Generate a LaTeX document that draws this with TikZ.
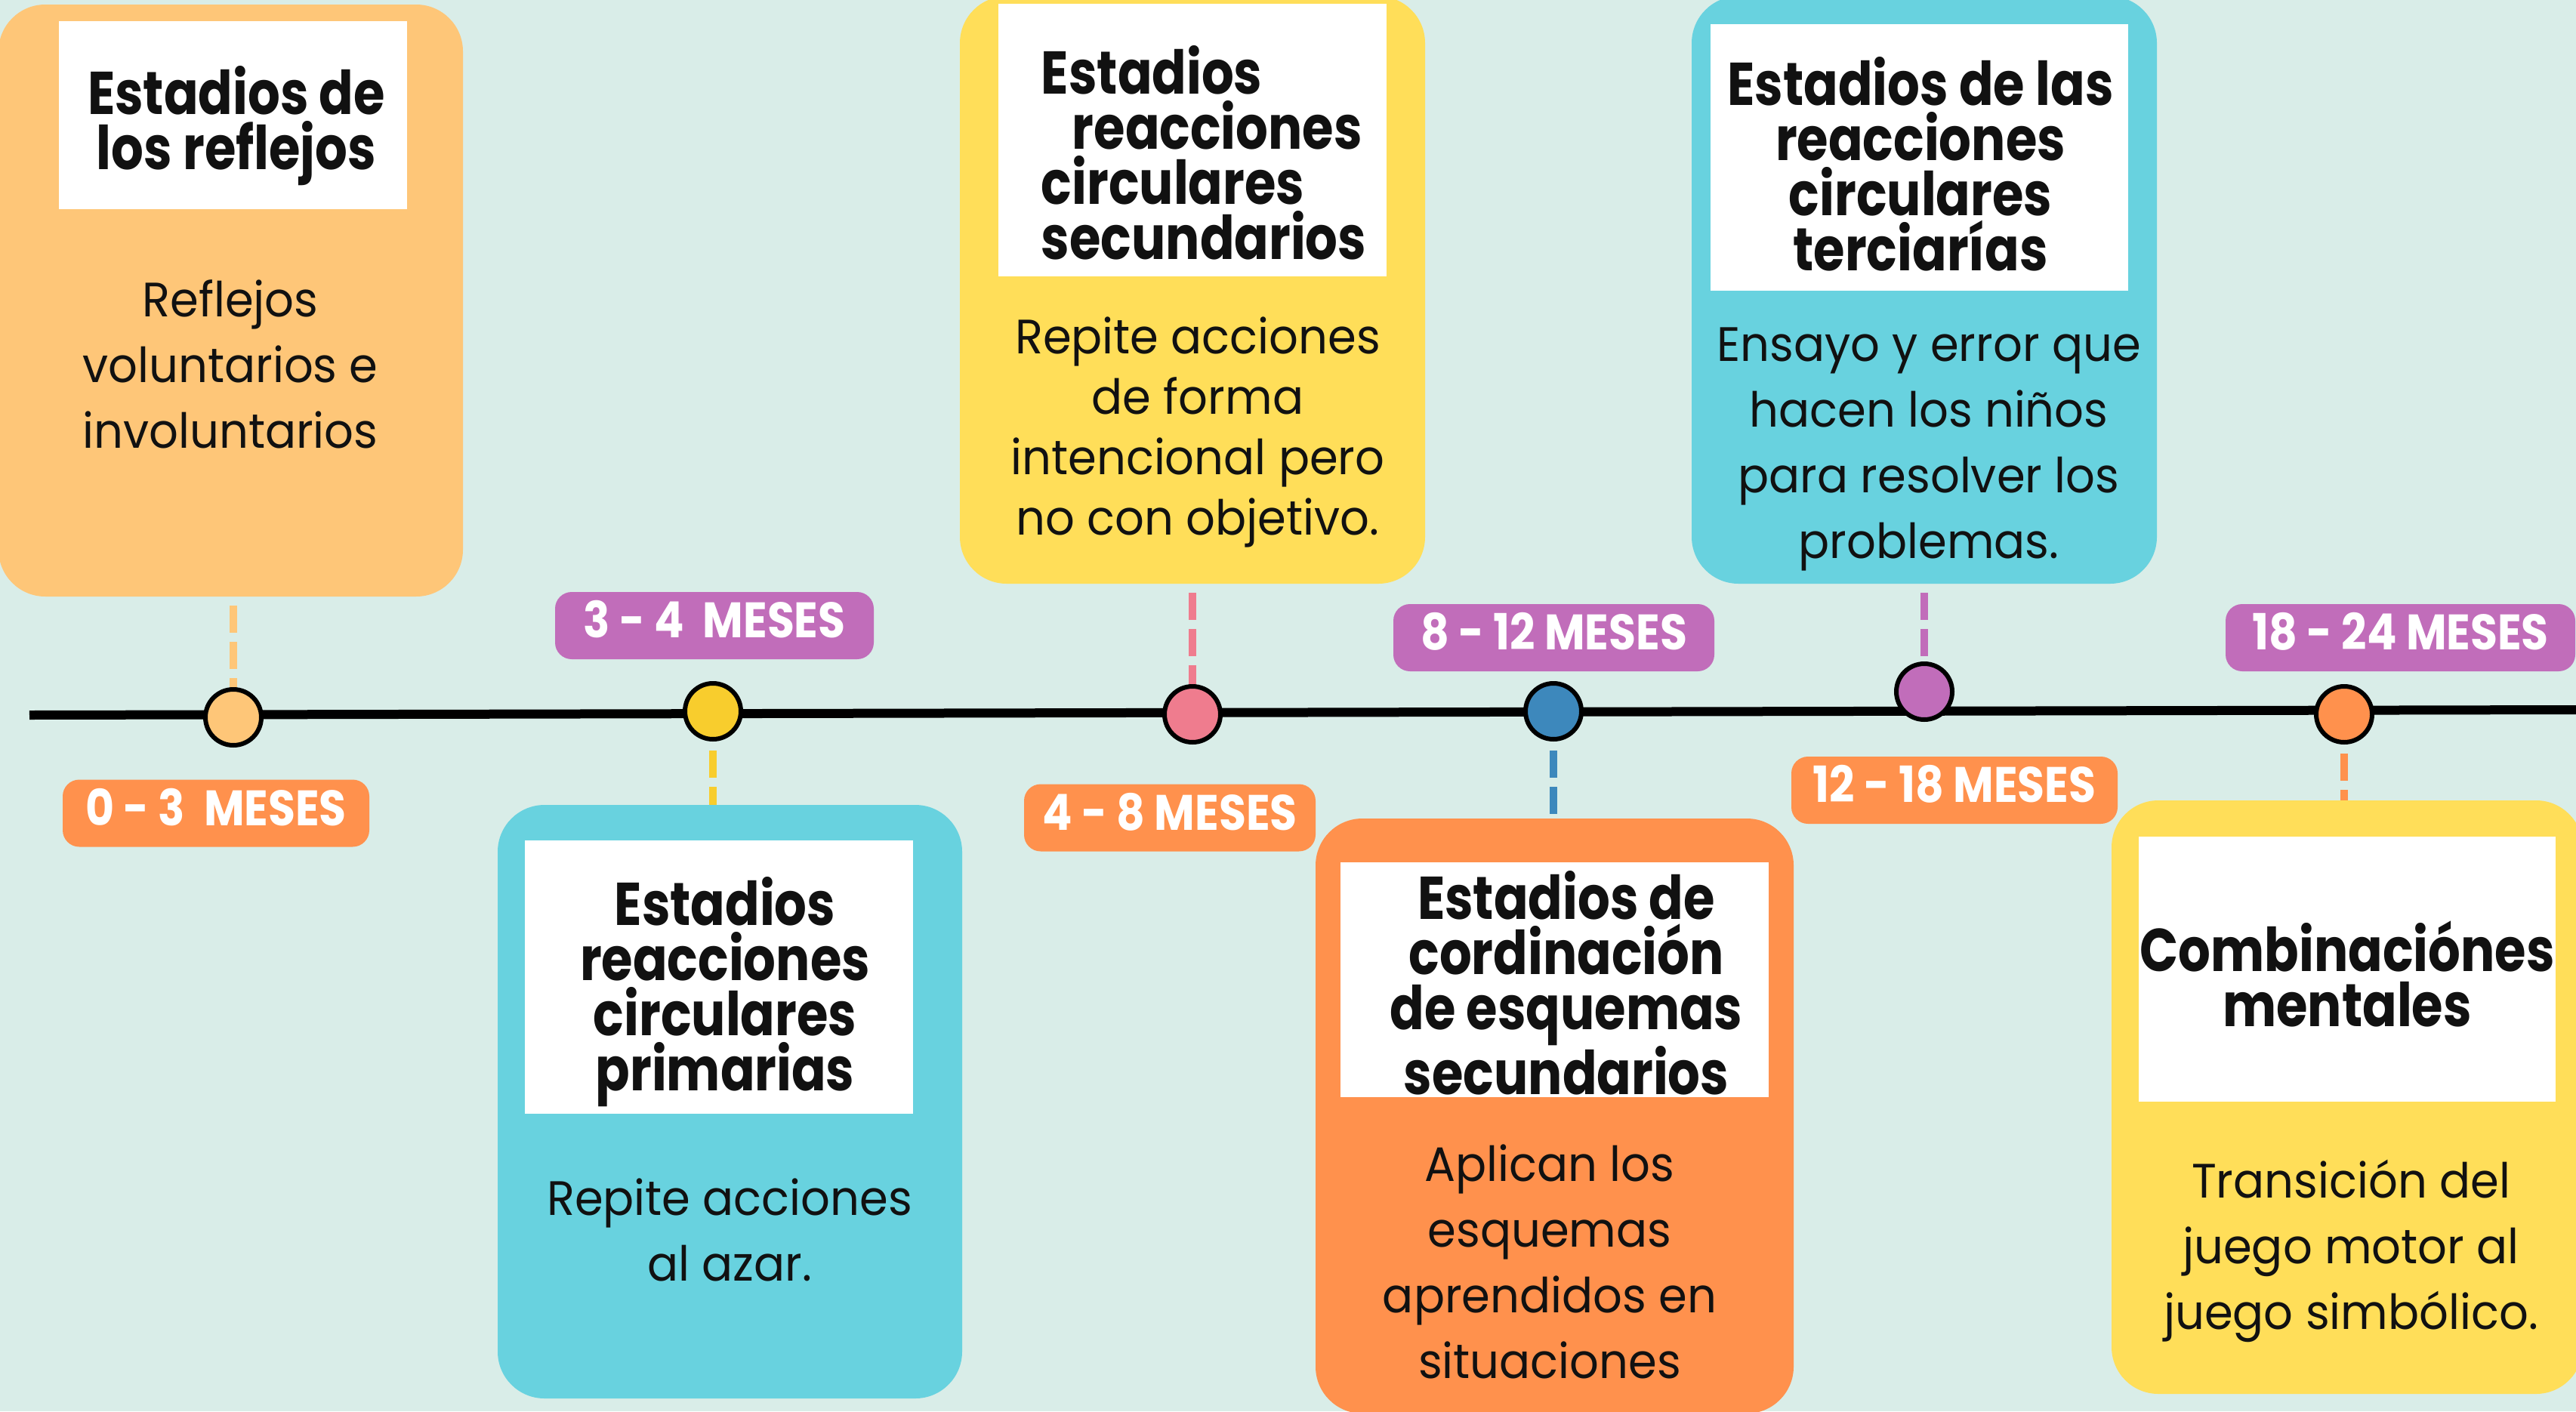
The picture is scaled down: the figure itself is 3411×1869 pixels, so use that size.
\documentclass[tikz,border=0pt]{standalone}
\usepackage{fontspec}
\setmainfont[FakeStretch=0.95]{Poppins}
\newfontfamily\titlefont[FakeStretch=0.84]{Poppins}
\newfontfamily\datefont[FakeStretch=0.885]{Poppins}

\definecolor{bgmint}{HTML}{D9EDE8}
\definecolor{peach}{HTML}{FEC678}
\definecolor{sun}{HTML}{FFDE59}
\definecolor{aqua}{HTML}{68D2DF}
\definecolor{tangerine}{HTML}{FF914D}
\definecolor{orchid}{HTML}{C16DBA}
\definecolor{mustard}{HTML}{F8CD2D}
\definecolor{rose}{HTML}{EF7C8E}
\definecolor{steel}{HTML}{3D88BC}
\definecolor{ink}{HTML}{111111}

\pgfdeclarelayer{bg}
\pgfdeclarelayer{links}
\pgfsetlayers{bg,links,main}

\begin{document}
\begin{tikzpicture}[x=1pt, y=-1pt,
    card/.style={rounded corners=62pt, inner sep=0pt},
    sheet/.style={fill=white, inner sep=0pt},
    head/.style={align=center, text=ink, inner sep=0pt, font={\titlefont\bfseries\fontsize{80}{73}\selectfont}},
    body/.style={align=center, text=ink, inner sep=0pt, font={\fontsize{64}{87}\selectfont}},
    dot/.style={circle, draw=black, line width=6pt, minimum size=74pt, inner sep=0pt},
    age/.style={rounded corners=22pt, text=white, inner sep=0pt, minimum height=89pt, text height=46pt, text depth=14pt, font={\datefont\bfseries\fontsize{66}{66}\selectfont}},
    link/.style={line width=10pt, dash pattern=on 36pt off 12pt, dash phase=36pt}]
    \useasboundingbox (0,0) rectangle (3411,1869);
    \begin{pgfonlayer}{bg}
        \fill[bgmint] (0,0) rectangle (3411,1869);
    \end{pgfonlayer}

    \node [card, fill=peach, minimum width=615pt, minimum height=784pt] (b1) at (305.5,398) {};
    \node [card, fill=aqua, minimum width=615pt, minimum height=786pt] (b2) at (966.5,1459) {};
    \node [card, fill=sun, minimum width=616pt, minimum height=778pt] (b3) at (1579,384) {};
    \node [card, fill=aqua, minimum width=616pt, minimum height=778pt] (b4) at (2548,384) {};
    \node [card, fill=tangerine, minimum width=633pt, minimum height=788pt] (b5) at (2058.5,1478) {};
    \node [card, fill=sun, minimum width=624pt, minimum height=786pt] (b6) at (3108,1453) {};

    \node [sheet, minimum width=461pt, minimum height=249pt] (w1) at (308.5,152.5) {};
    \node [sheet, minimum width=514pt, minimum height=362pt] (w2) at (952,1294) {};
    \node [sheet, minimum width=514pt, minimum height=361pt] (w3) at (1579,185.5) {};
    \node [sheet, minimum width=553pt, minimum height=353pt] (w4) at (2541.5,208.5) {};
    \node [sheet, minimum width=567pt, minimum height=311pt] (w5) at (2058.5,1297.5) {};
    \node [sheet, minimum width=552pt, minimum height=351pt] (w6) at (3108,1283.5) {};

    \node [head] (h1) at (313,166.5) {Estadios de\\los reflejos};
    \node [head] (h2) at (960,1313.5) {Estadios\\reacciones\\circulares\\primarias};
    \node [head, align=left] (h3) at (1594,202) {Estadios\\\hspace*{41pt}reacciones\\circulares\\secundarios};
    \node [head] (h4) at (2543,217.5) {Estadios de las\\reacciones\\circulares\\terciarías};
    \node [head] (h5) at (2074,1301.5) {Estadios de\\cordinación\\de esquemas\\secundarios};
    \node [head] (h6) at (3108,1289.5) {Combinaciónes\\mentales};

    \node [body] (d1) at (305,482.5) {Reflejos\\voluntarios e\\involuntarios};
    \node [body] (d2) at (966,1629) {Repite acciones\\al azar.};
    \node [body, font={\fontsize{64}{80}\selectfont}] (d3) at (1586,572) {Repite acciones\\de forma\\intencional pero\\no con objetivo.};
    \node [body] (d4) at (2554,595) {Ensayo y error que\\hacen los niños\\para resolver los\\problemas.};
    \node [body] (d5) at (2052,1670.5) {Aplican los\\esquemas\\aprendidos en\\situaciones};
    \node [body] (d6) at (3113,1656.5) {Transición del\\juego motor al\\juego simbólico.};

    \node [age, fill=tangerine, minimum width=406pt] (a1) at (286,1077) {0 - 3 \ MESES};
    \node [age, fill=orchid, minimum width=422pt] (a2) at (946,828.5) {3 - 4 \ MESES};
    \node [age, fill=tangerine, minimum width=386pt] (a3) at (1549,1083) {4 - 8 MESES};
    \node [age, fill=orchid, minimum width=425pt] (a4) at (2057.5,844.5) {8 - 12 MESES};
    \node [age, fill=tangerine, minimum width=432pt] (a5) at (2588,1046.5) {12 - 18 MESES};
    \node [age, fill=orchid, minimum width=463pt] (a6) at (3178.5,844.5) {18 - 24 MESES};

    \node [dot, fill=peach] (c1) at (309,950) {};
    \node [dot, fill=mustard] (c2) at (944,942) {};
    \node [dot, fill=rose] (c3) at (1579,946) {};
    \node [dot, fill=steel] (c4) at (2057,942) {};
    \node [dot, fill=orchid] (c5) at (2548,916) {};
    \node [dot, fill=tangerine] (c6) at (3104,946) {};

    \coordinate (start) at (39,947);
    \coordinate (finish) at (3411,940);

    \begin{pgfonlayer}{links}
        \draw [line width=12pt] (start) -- (finish);
        \draw [link, peach] (b1.south -| c1) -- (c1.north);
        \draw [link, mustard] (c2.south) -- (c2.south |- b2.north);
        \draw [link, rose] (b3.south -| c3) -- (c3.north);
        \draw [link, steel] (c4.south) -- (c4.south |- b5.north);
        \draw [link, orchid] (b4.south -| c5) -- (c5.north);
        \draw [link, tangerine] (c6.south) -- (c6.south |- b6.north);
    \end{pgfonlayer}
\end{tikzpicture}
\end{document}
